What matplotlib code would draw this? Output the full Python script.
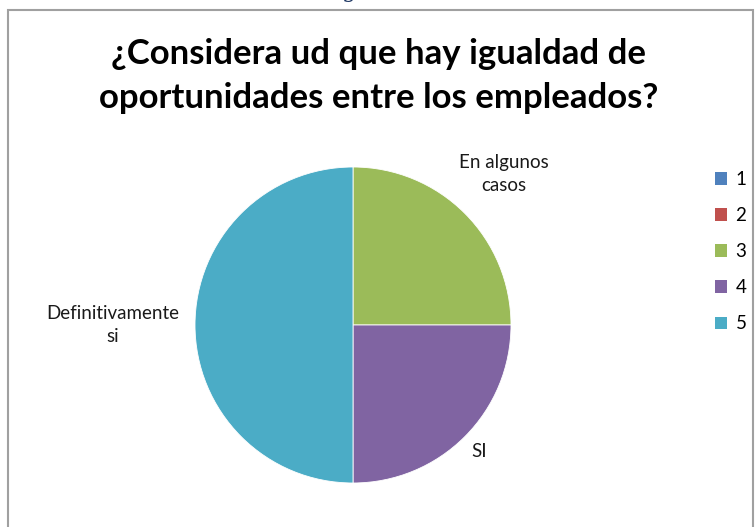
import numpy as np
import matplotlib.pyplot as plt
from matplotlib.patches import Rectangle

# Respuestas de la encuesta (conteo por opcion 1-5)
opciones = ['1', '2', '3', '4', '5']
conteos = [0, 0, 1, 1, 2]
colores = ['#4F81BD', '#C0504D', '#9BBB59', '#8064A2', '#4BACC6']
etiquetas = {2: 'En algunos\ncasos', 3: 'SI', 4: 'Definitivamente\nsi'}
dist_etiqueta = {2: 1.35, 3: 1.13, 4: 1.52}

titulo = '¿Considera ud que hay igualdad de\noportunidades entre los empleados?'

plt.rcParams['font.family'] = ['Lato', 'DejaVu Sans']

W, H = 756, 527
fig = plt.figure(figsize=(W / 100, H / 100), dpi=100)

# marco del grafico
fig.patches.append(Rectangle((8 / W, -0.05), 745 / W, 1.05 - 10 / H,
                             transform=fig.transFigure, fill=False,
                             edgecolor='#A0A0A0', linewidth=1.5))

# resto del texto de arriba que queda cortado
fig.text(349 / W, 1 + 9 / H, 'g', color='#1F3864', fontsize=16,
         family='DejaVu Serif', ha='center', va='center')

fig.text(379 / W, 1 - 76 / H, titulo, ha='center', va='center',
         fontsize=25, fontweight='bold', linespacing=1.45)

cx, cy, r = 353, H - 325, 158
ax = fig.add_axes([(cx - r) / W, (cy - r) / H, 2 * r / W, 2 * r / H])
wedges, _ = ax.pie(conteos, colors=colores, startangle=90, counterclock=False,
                   radius=1, wedgeprops=dict(linewidth=0.6, edgecolor='white'))
ax.set_xlim(-1, 1)
ax.set_ylim(-1, 1)
ax.set_aspect('equal')
ax.axis('off')

for i, w in enumerate(wedges):
    if conteos[i] == 0:
        continue
    ang = np.deg2rad((w.theta1 + w.theta2) / 2)
    d = dist_etiqueta[i]
    ax.text(d * np.cos(ang), d * np.sin(ang), etiquetas[i], ha='center',
            va='center', fontsize=13.5, color='#1a1a1a', clip_on=False,
            linespacing=1.4)

handles = [Rectangle((0, 0), 1, 1, facecolor=c) for c in colores]
fig.legend(handles, opciones, loc='upper left',
           bbox_to_anchor=(698 / W, 1 - 154 / H), frameon=False,
           fontsize=13.5, handlelength=0.65, handleheight=0.65,
           handletextpad=0.45, labelspacing=1.02)

fig.savefig('out.png', dpi=100)
